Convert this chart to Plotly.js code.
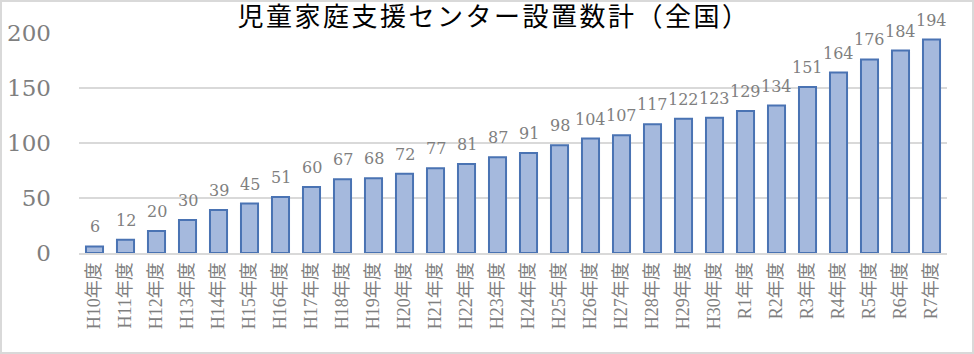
<!DOCTYPE html>
<html><head><meta charset="utf-8">
<script src="https://cdn.plot.ly/plotly-3.0.1.min.js"></script>
<style>
html,body{margin:0;padding:0;background:#fff;}
#wrap{position:relative;width:974px;height:354px;}
#chart{width:974px;height:354px;}
#frame{position:absolute;left:0;top:0;width:970px;height:350px;border:2px solid #d9d9d9;pointer-events:none;}
.gtitle{letter-spacing:2.5px;}
</style>
</head><body>
<div id="wrap"><div id="chart"></div><div id="frame"></div></div>
<script>
const categories = ['H10年度','H11年度','H12年度','H13年度','H14年度','H15年度','H16年度','H17年度','H18年度','H19年度','H20年度','H21年度','H22年度','H23年度','H24年度','H25年度','H26年度','H27年度','H28年度','H29年度','H30年度','R1年度','R2年度','R3年度','R4年度','R5年度','R6年度','R7年度'];
const centers = [6,12,20,30,39,45,51,60,67,68,72,77,81,87,91,98,104,107,117,122,123,129,134,151,164,176,184,194];
const yTicks = [0,50,100,150,200];

const serifL = '"Liberation Serif","Noto Sans CJK JP",serif';
const serifD = '"DejaVu Serif","Noto Sans CJK JP",serif';
const gray = '#7f7f7f';

const labels = categories.map((c, i) => ({
  x: c, y: centers[i], xref: 'x', yref: 'y',
  text: String(centers[i]), showarrow: false,
  yanchor: 'bottom', xanchor: 'center', yshift: 8,
  font: {family: serifD, size: 16, color: gray}
}));

Plotly.newPlot('chart', [{
  type: 'bar',
  x: categories,
  y: centers,
  marker: {color: '#a5b9dd', line: {color: '#4a73b3', width: 2}},
  width: 0.55,
  hoverinfo: 'none'
}], {
  width: 974, height: 354,
  margin: {l: 79, r: 27, t: 33, b: 101},
  paper_bgcolor: '#fff', plot_bgcolor: '#fff',
  showlegend: false,
  annotations: labels,
  title: {text: '児童家庭支援センター設置数計（全国）', x: 494/974, xref: 'container', xanchor: 'center', y: 1 - 17/354, yref: 'container', yanchor: 'middle', font: {family: serifL, size: 26, color: '#000'}},
  xaxis: {
    tickangle: -90, tickfont: {family: serifL, size: 18, color: gray},
    showline: true, linecolor: '#d9d9d9', linewidth: 2, ticks: '', showgrid: false,
    range: [-0.5, 27.5], fixedrange: true
  },
  yaxis: {
    range: [0, 200], tickvals: yTicks, ticktext: yTicks.map(String),
    tickfont: {family: serifD, size: 23, color: gray},
    showgrid: true, gridcolor: '#d9d9d9', gridwidth: 1.5, zeroline: false,
    ticks: '', ticklabelstandoff: 27, fixedrange: true
  }
}, {displayModeBar: false, staticPlot: true});
</script>
</body></html>
